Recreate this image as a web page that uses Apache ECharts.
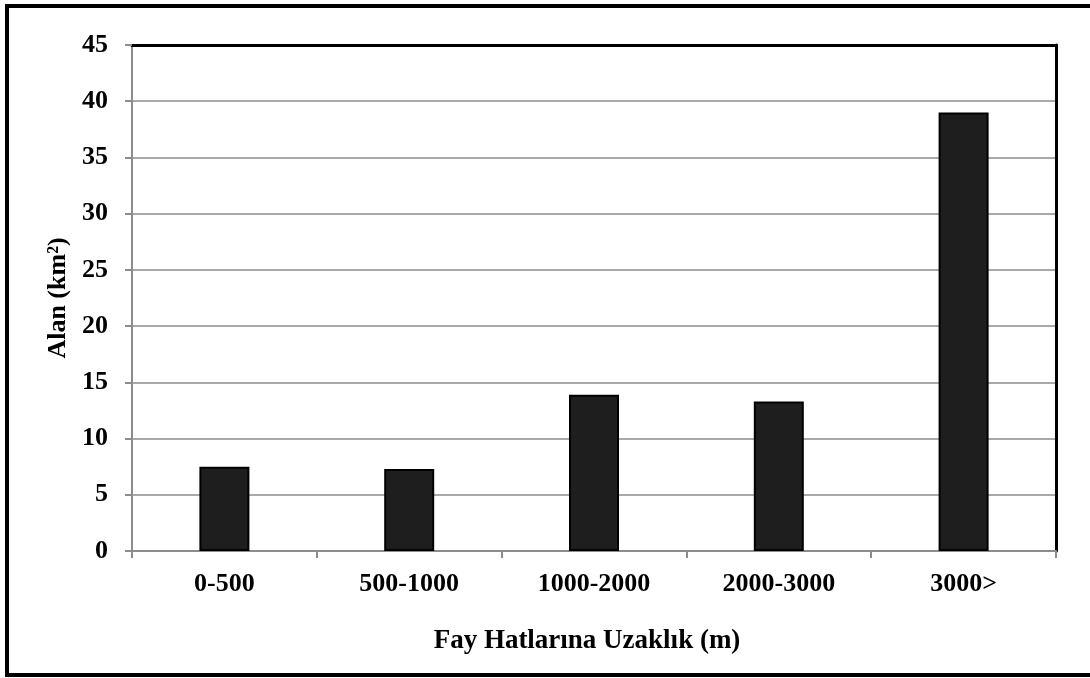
<!DOCTYPE html>
<html>
<head>
<meta charset="utf-8">
<script src="https://cdn.jsdelivr.net/npm/echarts@6/dist/echarts.min.js"></script>
<style>
html, body { margin: 0; padding: 0; background: #fff; }
#myChart { width: 1090px; height: 678px; }
</style>
</head>
<body>
<div id="myChart"></div>
<script>
// Fay hatlarına uzaklık sınıfları ve alanlar (km²)
const categories = ['0-500', '500-1000', '1000-2000', '2000-3000', '3000>'];
const areaValues = [7.5, 7.3, 13.9, 13.3, 39.0];
const yTicks = [0, 5, 10, 15, 20, 25, 30, 35, 40, 45];

const font = '"Liberation Serif", "Times New Roman", serif';
const gridColor = '#8c8c8c';

const myChart = echarts.init(document.getElementById('myChart'));

const option = {
    backgroundColor: '#fff',
    animation: false,
    graphic: [{
        type: 'rect',
        shape: { x: 7, y: 6, width: 1100, height: 669 },
        style: { fill: 'none', stroke: '#000', lineWidth: 4 },
        z: 100
    }, {
        type: 'text',
        x: 587,
        y: 641,
        style: {
            text: 'Fay Hatlarına Uzaklık (m)',
            font: 'bold 27px ' + font,
            fill: '#000',
            align: 'center',
            verticalAlign: 'middle'
        }
    }],
    grid: {
        left: 132,
        right: 34,
        top: 45,
        bottom: 127
    },
    xAxis: [{
        type: 'category',
        position: 'bottom',
        data: categories,
        axisLine: { lineStyle: { color: gridColor, width: 2 } },
        axisTick: { show: true, length: 7, lineStyle: { color: gridColor, width: 2 } },
        axisLabel: {
            margin: 20,
            color: '#000',
            fontFamily: font,
            fontWeight: 'bold',
            fontSize: 26
        },
        splitLine: { show: false }
    }, {
        type: 'category',
        position: 'top',
        data: categories,
        axisLine: { onZero: false, lineStyle: { color: '#000', width: 3 } },
        axisTick: { show: false },
        axisLabel: { show: false }
    }],
    yAxis: [{
        type: 'value',
        min: yTicks[0],
        max: yTicks[yTicks.length - 1],
        interval: 5,
        name: 'Alan (km²)',
        nameLocation: 'middle',
        nameGap: 60,
        nameTextStyle: {
            color: '#000',
            fontFamily: font,
            fontWeight: 'bold',
            fontSize: 26
        },
        axisLine: { show: true, lineStyle: { color: gridColor, width: 2 } },
        axisTick: { show: true, length: 7, lineStyle: { color: gridColor, width: 2 } },
        axisLabel: {
            margin: 24,
            color: '#000',
            fontFamily: font,
            fontWeight: 'bold',
            fontSize: 26
        },
        splitLine: { show: true, lineStyle: { color: gridColor, width: 1.5 } }
    }, {
        type: 'value',
        position: 'right',
        min: yTicks[0],
        max: yTicks[yTicks.length - 1],
        interval: 5,
        axisLine: { show: true, onZero: false, lineStyle: { color: '#000', width: 3 } },
        axisTick: { show: false },
        axisLabel: { show: false },
        splitLine: { show: false }
    }],
    series: [{
        name: 'Alan',
        type: 'bar',
        data: areaValues,
        barWidth: 50,
        itemStyle: {
            color: '#1e1e1e',
            borderColor: '#000',
            borderWidth: 2
        }
    }]
};

myChart.setOption(option);

window.addEventListener('resize', () => {
    myChart.resize();
});
</script>
</body>
</html>
